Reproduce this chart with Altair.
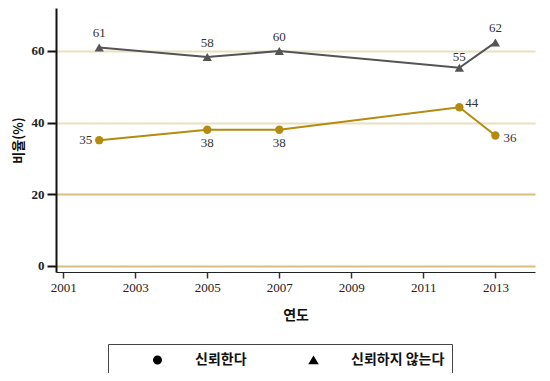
import altair as alt
import pandas as pd

series = ["신뢰한다", "신뢰하지 않는다"]
years = [2002, 2005, 2007, 2012, 2013]
trust = [35.1, 38.0, 38.0, 44.3, 36.4]
distrust = [61.0, 58.3, 60.0, 55.3, 62.4]
trust_pos = ["left", "below", "below", "upright", "right"]
distrust_pos = ["above", "above", "above", "above_close", "above"]
x_ticks = list(range(2001, 2015))
y_ticks = [0, 10, 20, 30, 40, 50, 60, 70]

GOLD = "#b38b0e"
GREY = "#545454"
SERIF = "Liberation Serif"
KR = "Noto Sans CJK KR"

rows = []
for y, v, p in zip(years, trust, trust_pos):
    rows.append({"연도": y, "비율": v, "series": series[0], "pos": p})
for y, v, p in zip(years, distrust, distrust_pos):
    rows.append({"연도": y, "비율": v, "series": series[1], "pos": p})
df = pd.DataFrame(rows)

circle_path = "M-3.65,0H3.65M-0.6,0A0.6,0.6 0 1,1 0.6,0A0.6,0.6 0 1,1 -0.6,0"
tri_path = "M-3.65,0H3.65M-0.7,0.55L0,-0.62L0.7,0.55Z"

x_enc = alt.X(
    "연도:Q",
    scale=alt.Scale(domain=[2000.8, 2014.1], nice=False, zero=False),
    axis=alt.Axis(
        values=x_ticks, format="d", title="연도", grid=False, labelOverlap=False, labelFlush=False,
        domainColor="#222", domainWidth=1.2, tickColor="#333", tickWidth=1.5, tickSize=6,
        labelFont=SERIF, labelFontSize=13, labelColor="#222", labelPadding=3,
        titleFont=KR, titleFontSize=14, titleFontWeight="bold", titleColor="#111", titlePadding=14,
    ),
)
y_enc = alt.Y(
    "비율:Q",
    scale=alt.Scale(domain=[-1.7, 72], nice=False, zero=False),
    axis=alt.Axis(
        values=y_ticks, title="비율(%)", grid=True, labelOverlap=False, labelFlush=False,
        gridColor={"condition": {"test": "datum.value === 60 || datum.value === 40", "value": "#ecdfbf"},
                   "value": "#d6bf80"},
        gridWidth=2,
        domainColor="#111", domainWidth=2, tickColor="#111", tickWidth=2, tickSize=9,
        labelFont=SERIF, labelFontSize=13, labelFontWeight="bold", labelColor="#222", labelPadding=3,
        titleFont=KR, titleFontSize=13, titleFontWeight="bold", titleColor="#111", titlePadding=6,
    ),
)

color_scale = alt.Scale(domain=series, range=[GOLD, GREY])

lines = alt.Chart(df).mark_line(strokeWidth=2).encode(
    x=x_enc, y=y_enc,
    color=alt.Color("series:N", scale=color_scale, legend=None),
)

points = alt.Chart(df).mark_point(filled=True, opacity=1).encode(
    x="연도:Q", y="비율:Q",
    color=alt.Color("series:N", scale=color_scale, legend=None),
    shape=alt.Shape("series:N", scale=alt.Scale(domain=series, range=["circle", "triangle-up"]), legend=None),
    size=alt.Size("series:N", scale=alt.Scale(domain=series, range=[70, 85]), legend=None),
)

legend_def = alt.Legend(
    title=None, orient="none", legendX=52, legendY=336, direction="horizontal",
    strokeColor="#444", padding=7, symbolSize=225, symbolOffset=34, symbolOpacity=1,
    symbolStrokeWidth=1.6, labelOffset=29, columnPadding=24,
    labelFont=KR, labelFontSize=14, labelFontWeight="bold", labelColor="#111",
    labelExpr=f"datum.value === '{series[1]}' ? datum.value + '\u00a0\u00a0\u00a0\u00a0' : datum.value",
)
legend_layer = alt.Chart(df).transform_filter("false").mark_point(filled=True, size=225).encode(
    x="연도:Q", y="비율:Q",
    fill=alt.Fill("series:N", scale=alt.Scale(domain=series, range=[GOLD, GREY]), legend=legend_def),
    stroke=alt.Stroke("series:N", scale=alt.Scale(domain=series, range=[GOLD, GREY]), legend=legend_def),
    shape=alt.Shape("series:N", scale=alt.Scale(domain=series, range=[circle_path, tri_path]), legend=legend_def),
)

pos_style = {
    "left": dict(dx=-7, dy=0, align="right"),
    "below": dict(dx=0, dy=13, align="center"),
    "upright": dict(dx=6, dy=-4, align="left"),
    "right": dict(dx=8, dy=2, align="left"),
    "above": dict(dx=0, dy=-14, align="center"),
    "above_close": dict(dx=0, dy=-11, align="center"),
}
text_layers = []
for code, st in pos_style.items():
    text_layers.append(
        alt.Chart(df).transform_filter(alt.datum.pos == code)
        .mark_text(font=SERIF, fontSize=13, color="#333", baseline="middle", **st)
        .encode(x="연도:Q", y="비율:Q", text=alt.Text("비율:Q", format=".0f"))
    )

chart = alt.layer(lines, points, legend_layer, *text_layers).resolve_scale(
    shape="independent"
).properties(
    width=479, height=264,
    autosize=alt.AutoSizeParams(type="none"),
    padding={"left": 48, "top": 0, "right": 7, "bottom": 101},
).configure_view(stroke=None)

chart.save("out.html", embed_options={"renderer": "svg", "actions": False})
